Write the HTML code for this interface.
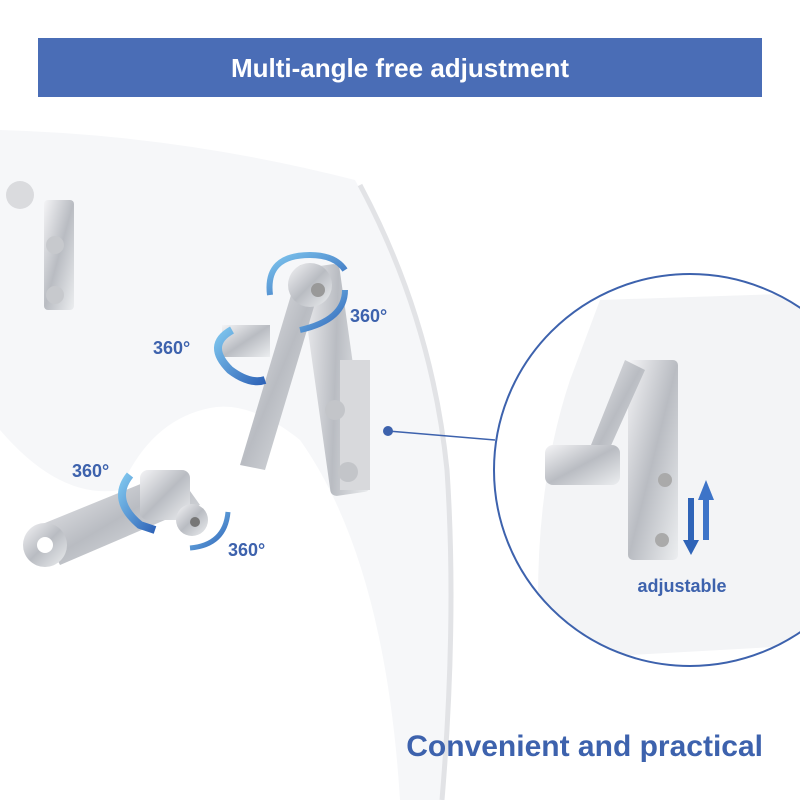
<!DOCTYPE html>
<html><head><meta charset="utf-8"><style>
body{margin:0;width:800px;height:800px;background:#fff;overflow:hidden;font-family:"Liberation Sans",sans-serif}
</style></head><body>
<svg width="800" height="800" viewBox="0 0 800 800" xmlns="http://www.w3.org/2000/svg">
<defs>
<linearGradient id="met" x1="0" y1="0" x2="1" y2="1">
<stop offset="0" stop-color="#f4f4f6"/><stop offset="0.5" stop-color="#b9bcc2"/><stop offset="1" stop-color="#eceef0"/>
</linearGradient>
<linearGradient id="arr" x1="0" y1="0" x2="1" y2="1">
<stop offset="0" stop-color="#7fc6ee"/><stop offset="1" stop-color="#2f64b8"/>
</linearGradient>
</defs>
<rect x="38" y="38" width="724" height="59" fill="#4a6db6"/>
<text x="400" y="77" text-anchor="middle" font-size="26" font-weight="bold" fill="#fff">Multi-angle free adjustment</text>
<!-- windshield -->
<path d="M0 130 Q180 135 355 180 Q430 320 445 470 Q455 620 440 800 L400 800 Q385 560 300 440 Q250 400 210 408 Q150 420 120 490 Q60 500 0 430 Z" fill="#f6f7f9"/>
<path d="M360 185 Q432 320 447 470 Q457 620 442 800" stroke="#e2e3e6" stroke-width="5" fill="none"/>
<!-- left brackets -->
<rect x="44" y="200" width="30" height="110" rx="4" fill="url(#met)"/>
<circle cx="55" cy="245" r="9" fill="#c7c9cd"/><circle cx="55" cy="295" r="9" fill="#c7c9cd"/>
<circle cx="20" cy="195" r="14" fill="#dadbde"/>
<!-- arm -->
<rect x="315" y="265" width="40" height="230" rx="6" fill="url(#met)" transform="rotate(-8 335 380)"/>
<rect x="340" y="360" width="30" height="130" fill="#d8d9dc"/>
<circle cx="335" cy="410" r="10" fill="#c3c5c9"/><circle cx="348" cy="472" r="10" fill="#c3c5c9"/>
<path d="M300 265 L325 270 L265 470 L240 465 Z" fill="url(#met)"/>
<rect x="222" y="325" width="48" height="32" fill="url(#met)"/>
<circle cx="310" cy="285" r="22" fill="url(#met)"/><circle cx="318" cy="290" r="7" fill="#999"/>
<path d="M40 525 L175 470 L200 505 L60 565 Z" fill="url(#met)"/>
<circle cx="45" cy="545" r="22" fill="url(#met)"/><circle cx="45" cy="545" r="8" fill="#fff"/>
<rect x="140" y="470" width="50" height="50" rx="8" fill="url(#met)"/>
<circle cx="192" cy="520" r="16" fill="url(#met)"/><circle cx="195" cy="522" r="5" fill="#777"/>
<!-- rotation arrows -->
<path d="M270 295 Q265 255 310 255 Q335 255 345 270" stroke="url(#arr)" stroke-width="6" fill="none"/>
<path d="M300 330 Q345 320 345 290" stroke="url(#arr)" stroke-width="6" fill="none"/>
<path d="M232 330 Q205 345 230 370 Q250 385 265 380" stroke="url(#arr)" stroke-width="8" fill="none"/>
<path d="M130 475 Q110 500 140 525 L155 530" stroke="url(#arr)" stroke-width="8" fill="none"/>
<path d="M190 548 Q225 545 228 512" stroke="url(#arr)" stroke-width="5" fill="none"/>
<g font-size="18" font-weight="bold" fill="#3d62ad">
<text x="350" y="322">360°</text>
<text x="153" y="354">360°</text>
<text x="72" y="477">360°</text>
<text x="228" y="556">360°</text>
</g>
<!-- connector -->
<circle cx="388" cy="431" r="5" fill="#3d62ad"/>
<line x1="388" y1="431" x2="495" y2="440" stroke="#3d62ad" stroke-width="1.5"/>
<!-- zoom circle -->
<clipPath id="cc"><circle cx="690" cy="470" r="196"/></clipPath>
<g clip-path="url(#cc)">
<rect x="490" y="270" width="400" height="400" fill="#fff"/>
<path d="M600 300 L900 290 L900 640 L540 660 Q530 500 570 380 Z" fill="#f3f4f6"/>
<rect x="628" y="360" width="50" height="200" rx="5" fill="url(#met)"/>
<path d="M625 360 L645 370 L600 470 L585 460 Z" fill="url(#met)"/>
<rect x="545" y="445" width="75" height="40" rx="8" fill="url(#met)"/>
<circle cx="665" cy="480" r="7" fill="#aaa"/><circle cx="662" cy="540" r="7" fill="#aaa"/>
<path d="M703 540 L703 500 L698 500 L706 480 L714 500 L709 500 L709 540 Z" fill="#3d74c8"/>
<path d="M688 498 L688 540 L683 540 L691 555 L699 540 L694 540 L694 498 Z" fill="#2f64b8"/>
</g>
<circle cx="690" cy="470" r="196" fill="none" stroke="#3d62ad" stroke-width="2"/>
<text x="682" y="592" text-anchor="middle" font-size="18" font-weight="bold" fill="#3d62ad">adjustable</text>
<text x="763" y="756" text-anchor="end" font-size="30" font-weight="bold" fill="#3d62ad">Convenient and practical</text>
</svg>
</body></html>
